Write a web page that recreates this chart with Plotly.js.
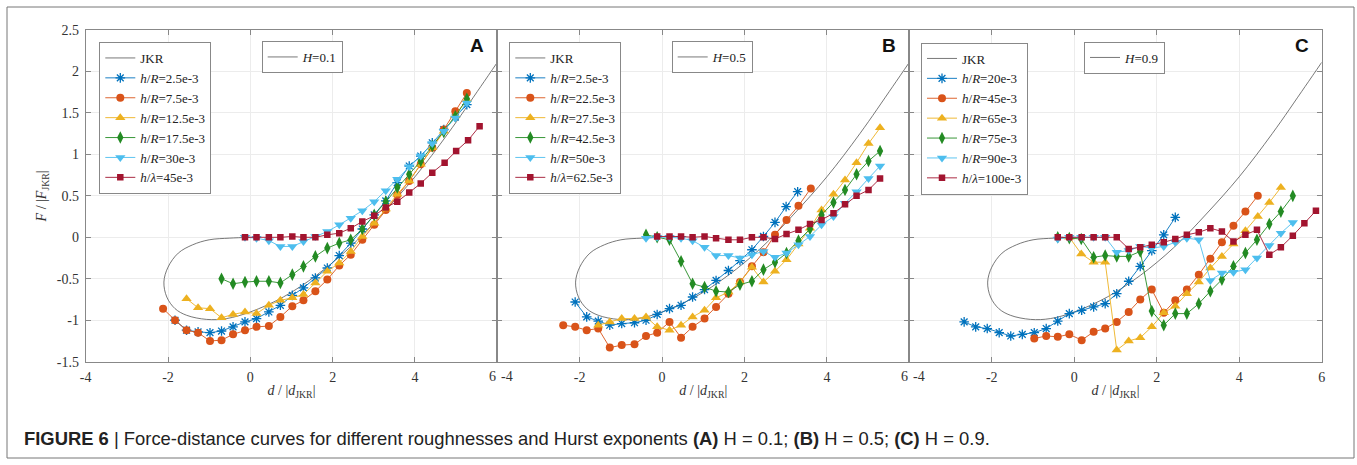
<!DOCTYPE html>
<html><head><meta charset="utf-8">
<script src="https://cdn.plot.ly/plotly-3.0.1.min.js"></script>
<style>html,body{margin:0;padding:0;background:#fff;}#chart{width:1357px;height:465px;}</style>
</head><body><div id="chart"></div>
<script>
// ---------- data ----------
const X_TICKS = [-4, -2, 0, 2, 4, 6];
const X_TICK_LABELS = ["-4", "-2", "0", "2", "4", "6"];
const Y_TICKS = [-1.5, -1, -0.5, 0, 0.5, 1, 1.5, 2, 2.5];
const Y_TICK_LABELS = ["-1.5", "-1", "-0.5", "0", "0.5", "1", "1.5", "2", "2.5"];

const PANEL_LETTERS = ["A", "B", "C"];
const HURST_LABELS = ["<i>H</i>=0.1", "<i>H</i>=0.5", "<i>H</i>=0.9"];

const JKR_X = [0, -0.5, -1.0, -1.4, -1.75, -2.0, -2.1, -2.03, -1.83, -1.55, -1.06, -0.58, 0, 0.8, 1.6, 2.4, 3.2, 4.0, 4.8, 5.6, 6.0];
const JKR_Y = [0, -0.01, -0.03, -0.09, -0.19, -0.36, -0.54, -0.72, -0.86, -0.94, -0.99, -0.98, -0.90, -0.72, -0.46, -0.13, 0.28, 0.73, 1.25, 1.82, 2.11];

// Panel A (H = 0.1)
const A_NAMES = ["<i>h</i>/<i>R</i>=2.5e-3", "<i>h</i>/<i>R</i>=7.5e-3", "<i>h</i>/<i>R</i>=12.5e-3", "<i>h</i>/<i>R</i>=17.5e-3", "<i>h</i>/<i>R</i>=30e-3", "<i>h</i>/<i>λ</i>=45e-3"];
const A1_X = [-1.83, -1.55, -1.27, -0.98, -0.70, -0.42, -0.13, 0.15, 0.45, 0.73, 1.02, 1.29, 1.58, 1.87, 2.16, 2.44, 2.72, 3.01, 3.29, 3.57, 3.86, 4.14, 4.42, 4.70, 4.98, 5.26];
const A1_Y = [-1.00, -1.12, -1.14, -1.15, -1.13, -1.08, -1.02, -0.98, -0.90, -0.82, -0.70, -0.61, -0.49, -0.37, -0.22, -0.07, 0.10, 0.27, 0.44, 0.66, 0.86, 0.98, 1.14, 1.30, 1.45, 1.60];
const A2_X = [-2.12, -1.83, -1.55, -1.27, -0.98, -0.70, -0.42, -0.13, 0.15, 0.45, 0.73, 1.02, 1.29, 1.58, 1.87, 2.16, 2.44, 2.72, 3.01, 3.29, 3.57, 3.86, 4.14, 4.42, 4.70, 4.98, 5.26];
const A2_Y = [-0.86, -1.00, -1.12, -1.15, -1.25, -1.24, -1.17, -1.12, -1.08, -1.07, -0.96, -0.83, -0.76, -0.65, -0.51, -0.34, -0.21, -0.03, 0.15, 0.33, 0.51, 0.68, 0.88, 1.08, 1.30, 1.52, 1.74];
const A3_X = [-1.55, -1.27, -0.98, -0.70, -0.42, -0.13, 0.15, 0.45, 0.73, 1.02, 1.29, 1.58, 1.87, 2.16, 2.44, 2.72, 3.01, 3.29, 3.57, 3.86, 4.14, 4.42, 4.70, 4.98, 5.26];
const A3_Y = [-0.74, -0.85, -0.86, -0.97, -0.93, -0.90, -0.92, -0.82, -0.76, -0.73, -0.69, -0.55, -0.41, -0.31, -0.17, 0.01, 0.17, 0.34, 0.52, 0.68, 0.88, 1.08, 1.28, 1.47, 1.66];
const A4_X = [-0.70, -0.42, -0.13, 0.15, 0.45, 0.73, 1.02, 1.29, 1.58, 1.87, 2.16, 2.44, 2.72, 3.01, 3.29, 3.57, 3.86, 4.14, 4.42, 4.70, 4.98, 5.26];
const A4_Y = [-0.50, -0.56, -0.54, -0.53, -0.53, -0.55, -0.45, -0.35, -0.23, -0.13, -0.07, -0.03, 0.10, 0.27, 0.43, 0.60, 0.76, 0.92, 1.10, 1.27, 1.46, 1.67];
const A5_X = [-0.13, 0.15, 0.45, 0.73, 1.02, 1.29, 1.58, 1.87, 2.16, 2.44, 2.72, 3.01, 3.29, 3.57, 3.86, 4.14, 4.42, 4.70, 4.98, 5.26];
const A5_Y = [0.00, -0.01, -0.04, -0.11, -0.11, -0.05, 0.01, 0.07, 0.15, 0.23, 0.32, 0.43, 0.56, 0.70, 0.85, 0.98, 1.13, 1.28, 1.44, 1.62];
const A6_X = [-0.13, 0.15, 0.45, 0.73, 1.02, 1.29, 1.58, 1.87, 2.16, 2.44, 2.72, 3.01, 3.29, 3.57, 3.86, 4.14, 4.42, 4.72, 5.00, 5.29, 5.57];
const A6_Y = [0.00, 0.00, 0.00, 0.00, 0.01, 0.00, 0.00, 0.03, 0.05, 0.11, 0.19, 0.26, 0.36, 0.43, 0.54, 0.65, 0.78, 0.90, 1.04, 1.17, 1.34];

// Panel B (H = 0.5)
const B_NAMES = ["<i>h</i>/<i>R</i>=2.5e-3", "<i>h</i>/<i>R</i>=22.5e-3", "<i>h</i>/<i>R</i>=27.5e-3", "<i>h</i>/<i>R</i>=42.5e-3", "<i>h</i>/<i>R</i>=50e-3", "<i>h</i>/<i>λ</i>=62.5e-3"];
const B1_X = [-2.11, -1.83, -1.55, -1.27, -0.98, -0.67, -0.39, -0.12, 0.18, 0.46, 0.74, 1.03, 1.31, 1.61, 1.89, 2.18, 2.46, 2.74, 3.01, 3.29];
const B1_Y = [-0.78, -0.96, -1.01, -1.06, -1.04, -1.03, -1.00, -0.93, -0.86, -0.82, -0.72, -0.63, -0.52, -0.40, -0.28, -0.15, 0.01, 0.18, 0.37, 0.55];
const B2_X = [-2.40, -2.11, -1.83, -1.55, -1.27, -0.98, -0.67, -0.39, -0.12, 0.18, 0.46, 0.74, 1.03, 1.31, 1.61, 1.89, 2.18, 2.46, 2.74, 3.02, 3.31, 3.61];
const B2_Y = [-1.06, -1.08, -1.12, -1.10, -1.33, -1.30, -1.29, -1.19, -1.15, -1.02, -1.21, -1.08, -0.98, -0.84, -0.68, -0.54, -0.35, -0.18, 0.03, 0.21, 0.38, 0.59];
const B3_X = [-1.55, -1.27, -0.98, -0.67, -0.39, -0.12, 0.18, 0.46, 0.74, 1.03, 1.31, 1.61, 1.89, 2.18, 2.46, 2.74, 3.02, 3.31, 3.59, 3.87, 4.16, 4.44, 4.72, 5.01, 5.29];
const B3_Y = [-1.06, -1.02, -0.98, -0.98, -0.96, -1.08, -1.12, -1.06, -0.96, -0.88, -0.73, -0.66, -0.54, -0.36, -0.54, -0.41, -0.27, -0.08, 0.11, 0.33, 0.52, 0.69, 0.90, 1.13, 1.32];
const B4_X = [-0.39, -0.12, 0.18, 0.46, 0.74, 1.03, 1.31, 1.61, 1.89, 2.18, 2.46, 2.74, 3.02, 3.31, 3.59, 3.87, 4.16, 4.44, 4.72, 5.01, 5.29];
const B4_Y = [0.03, 0.00, -0.03, -0.29, -0.56, -0.60, -0.65, -0.66, -0.57, -0.53, -0.39, -0.30, -0.19, -0.04, 0.10, 0.27, 0.42, 0.57, 0.76, 0.92, 1.04];
const B5_X = [-0.39, -0.12, 0.18, 0.46, 0.74, 1.03, 1.31, 1.61, 1.89, 2.18, 2.46, 2.74, 3.02, 3.31, 3.59, 3.87, 4.16, 4.44, 4.72, 5.01, 5.29];
const B5_Y = [-0.01, 0.00, 0.00, -0.01, -0.04, -0.12, -0.22, -0.22, -0.25, -0.21, -0.17, -0.24, -0.19, -0.09, 0.01, 0.15, 0.25, 0.41, 0.55, 0.71, 0.86];
const B6_X = [-0.12, 0.18, 0.46, 0.74, 1.03, 1.31, 1.61, 1.89, 2.18, 2.46, 2.74, 3.02, 3.31, 3.59, 3.87, 4.16, 4.44, 4.72, 5.01, 5.29];
const B6_Y = [0.01, 0.01, 0.01, 0.00, 0.01, -0.01, -0.03, -0.03, 0.00, 0.00, -0.02, 0.04, 0.09, 0.16, 0.21, 0.29, 0.40, 0.50, 0.57, 0.71];

// Panel C (H = 0.9)
const C_NAMES = ["<i>h</i>/<i>R</i>=20e-3", "<i>h</i>/<i>R</i>=45e-3", "<i>h</i>/<i>R</i>=65e-3", "<i>h</i>/<i>R</i>=75e-3", "<i>h</i>/<i>R</i>=90e-3", "<i>h</i>/<i>λ</i>=100e-3"];
const C1_X = [-2.67, -2.39, -2.11, -1.82, -1.54, -1.26, -0.97, -0.68, -0.40, -0.12, 0.18, 0.47, 0.75, 1.03, 1.32, 1.60, 1.88, 2.17, 2.45];
const C1_Y = [-1.02, -1.08, -1.10, -1.15, -1.19, -1.17, -1.15, -1.10, -1.01, -0.92, -0.88, -0.84, -0.80, -0.68, -0.53, -0.35, -0.16, 0.03, 0.24];
const C2_X = [-0.97, -0.68, -0.40, -0.12, 0.18, 0.47, 0.75, 1.03, 1.32, 1.60, 1.88, 2.17, 2.45, 2.73, 3.02, 3.30, 3.58, 3.86, 4.15, 4.45];
const C2_Y = [-1.22, -1.19, -1.20, -1.17, -1.24, -1.14, -1.10, -1.02, -0.90, -0.75, -0.63, -0.91, -0.76, -0.63, -0.45, -0.26, -0.06, 0.14, 0.31, 0.50];
const C3_X = [-0.12, 0.17, 0.47, 0.75, 1.03, 1.32, 1.60, 1.88, 2.17, 2.45, 2.73, 3.02, 3.30, 3.58, 3.86, 4.15, 4.45, 4.73, 5.01];
const C3_Y = [0.00, -0.20, -0.30, -0.30, -1.36, -1.25, -1.21, -1.08, -0.91, -0.83, -0.68, -0.54, -0.37, -0.23, -0.08, 0.08, 0.25, 0.42, 0.60];
const C4_X = [-0.40, -0.12, 0.17, 0.47, 0.75, 1.03, 1.32, 1.60, 1.88, 2.17, 2.45, 2.73, 3.02, 3.30, 3.58, 3.86, 4.15, 4.43, 4.73, 5.01, 5.30];
const C4_Y = [0.00, -0.01, -0.02, -0.24, -0.22, -0.23, -0.23, -0.17, -0.89, -1.06, -0.92, -0.92, -0.80, -0.65, -0.51, -0.35, -0.19, -0.03, 0.16, 0.31, 0.50];
const C5_X = [-0.40, -0.12, 0.17, 0.47, 0.75, 1.03, 1.32, 1.60, 1.88, 2.17, 2.45, 2.73, 3.02, 3.30, 3.58, 3.86, 4.15, 4.43, 4.73, 5.01, 5.30];
const C5_Y = [-0.02, 0.00, 0.00, 0.00, 0.00, -0.18, -0.16, -0.11, -0.13, -0.11, -0.06, -0.01, -0.03, -0.52, -0.43, -0.42, -0.39, -0.25, -0.10, 0.05, 0.18];
const C6_X = [-0.40, -0.12, 0.18, 0.47, 0.75, 1.03, 1.32, 1.60, 1.88, 2.17, 2.45, 2.73, 3.02, 3.30, 3.58, 3.86, 4.15, 4.43, 4.73, 5.01, 5.30, 5.58, 5.86];
const C6_Y = [0.00, 0.00, 0.00, 0.00, 0.00, 0.00, -0.14, -0.12, -0.09, -0.06, -0.02, 0.03, 0.06, 0.11, 0.07, -0.05, 0.03, 0.09, -0.21, -0.12, 0.02, 0.17, 0.32];

const CAPTION = "<b>FIGURE 6</b> | Force-distance curves for different roughnesses and Hurst exponents <b>(A)</b> H = 0.1; <b>(B)</b> H = 0.5; <b>(C)</b> H = 0.9.";

// ---------- styles ----------
const W = 1357, H = 465;
const px = v => v / W, py = v => 1 - v / H;
const SERIF = '"Liberation Serif", "Times New Roman", serif';
const SANS = '"Liberation Sans", Arial, sans-serif';
const TICKFONT = {family: SERIF, size: 14, color: "#333"};
const STYLES = [
  {color: "#0072BD", symbol: "asterisk-open", size: 8},
  {color: "#D95319", symbol: "circle", size: 8},
  {color: "#EDB120", symbol: "triangle-up", size: 9},
  {color: "#238B23", symbol: "diamond-tall", size: 9},
  {color: "#4DBEEE", symbol: "triangle-down", size: 9},
  {color: "#A2142F", symbol: "square", size: 6.5}
];

const PANELS = [
  {names: A_NAMES, xs: [A1_X, A2_X, A3_X, A4_X, A5_X, A6_X], ys: [A1_Y, A2_Y, A3_Y, A4_Y, A5_Y, A6_Y]},
  {names: B_NAMES, xs: [B1_X, B2_X, B3_X, B4_X, B5_X, B6_X], ys: [B1_Y, B2_Y, B3_Y, B4_Y, B5_Y, B6_Y]},
  {names: C_NAMES, xs: [C1_X, C2_X, C3_X, C4_X, C5_X, C6_X], ys: [C1_Y, C2_Y, C3_Y, C4_Y, C5_Y, C6_Y]}
];

// pixel geometry of the three axes boxes
const X_EDGES = [85.7, 497.3, 909.3, 1321.7];
const Y_TOP = 30, Y_BOTTOM = 361.7;
const LEGEND_POS = [[99.3, 42], [509.3, 42], [921, 42.5]];
const HLEG_POS = [[261.7, 41], [671.7, 41], [1084, 41.5]];
const TICKLABEL_ROW = 376;

const traces = [];
PANELS.forEach((p, i) => {
  const ax = i === 0 ? "" : String(i + 1);
  const leg = i === 0 ? "legend" : "legend" + (i + 1);
  traces.push({
    type: "scatter", mode: "lines", x: JKR_X, y: JKR_Y, name: "JKR",
    xaxis: "x" + ax, yaxis: "y" + ax, legend: leg,
    line: {color: "#555555", width: 0.8, shape: "spline", smoothing: 1}
  });
  p.xs.forEach((xs, k) => {
    const s = STYLES[k];
    traces.push({
      type: "scatter", mode: "lines+markers", x: xs, y: p.ys[k], name: p.names[k],
      xaxis: "x" + ax, yaxis: "y" + ax, legend: leg,
      line: {color: s.color, width: 0.9},
      marker: {symbol: s.symbol, size: s.size, color: s.color,
               line: {color: s.color, width: s.symbol === "asterisk-open" ? 1.3 : 0}}
    });
  });
  // Hurst exponent box (legend with a single line entry)
  traces.push({
    type: "scatter", mode: "lines", x: [null], y: [null], name: HURST_LABELS[i],
    xaxis: "x" + ax, yaxis: "y" + ax, legend: "legend" + (i + 4),
    line: {color: "#555555", width: 0.8}
  });
});

const layout = {
  width: W, height: H,
  margin: {l: 0, r: 0, t: 0, b: 0},
  paper_bgcolor: "#ffffff", plot_bgcolor: "#ffffff",
  showlegend: true,
  font: {family: SERIF, size: 14, color: "#333"},
  annotations: [],
  shapes: [{type: "rect", xref: "paper", yref: "paper", x0: px(7), x1: px(1354), y0: py(458), y1: py(7),
            line: {color: "#777", width: 1}, fillcolor: "rgba(0,0,0,0)", layer: "below"}]
};

const LAST = X_TICK_LABELS.length - 1;
for (let i = 0; i < 3; i++) {
  const ax = i === 0 ? "" : String(i + 1);
  // labels at shared panel borders are drawn as side-anchored texts so they sit apart, as in the reference
  const keep = X_TICKS.map((t, j) => !((j === 0 && i > 0) || (j === LAST && i < 2)));
  const tv = X_TICKS.filter((t, j) => keep[j]);
  const tt = X_TICK_LABELS.filter((t, j) => keep[j]);
  if (i > 0) layout.annotations.push({
    text: X_TICK_LABELS[0], xref: "x" + ax, yref: "paper", x: X_TICKS[0], y: py(TICKLABEL_ROW),
    xanchor: "left", yanchor: "middle", xshift: 1.5, showarrow: false, font: TICKFONT
  });
  if (i < 2) layout.annotations.push({
    text: X_TICK_LABELS[LAST], xref: "x" + ax, yref: "paper", x: X_TICKS[LAST], y: py(TICKLABEL_ROW),
    xanchor: "right", yanchor: "middle", xshift: 1, showarrow: false, font: TICKFONT
  });
  layout["xaxis" + ax] = {
    domain: [px(X_EDGES[i]), px(X_EDGES[i + 1])], anchor: "y" + ax,
    range: [-4, 6], tickvals: tv, ticktext: tt,
    ticks: "inside", ticklen: 5, tickwidth: 1, tickcolor: "#888",
    showline: true, linecolor: "#888", linewidth: 1, mirror: "allticks",
    showgrid: true, gridcolor: "#ececec", gridwidth: 1, zeroline: false,
    tickfont: TICKFONT, ticklabelstandoff: 2,
    title: {text: "<i>d</i> / |<i>d</i><sub>JKR</sub>|", font: {family: SERIF, size: 14, color: "#333"}, standoff: 1},
    automargin: false, fixedrange: true
  };
  const yax = {
    domain: [py(Y_BOTTOM), py(Y_TOP)], anchor: "x" + ax,
    range: [-1.5, 2.5], tickvals: Y_TICKS, ticktext: Y_TICK_LABELS, showticklabels: i === 0,
    ticks: "inside", ticklen: 5, tickwidth: 1, tickcolor: "#888",
    showline: true, linecolor: "#888", linewidth: 1, mirror: "allticks",
    showgrid: true, gridcolor: "#ececec", gridwidth: 1, zeroline: false,
    tickfont: TICKFONT, ticklabelstandoff: 3,
    automargin: false, fixedrange: true
  };
  if (i === 0) yax.title = {text: "<i>F</i> / |<i>F</i><sub>JKR</sub>|", font: {family: SERIF, size: 14, color: "#333"}, standoff: 6};
  layout["yaxis" + ax] = yax;
  const legName = i === 0 ? "legend" : "legend" + (i + 1);
  layout[legName] = {
    x: px(LEGEND_POS[i][0]), y: py(LEGEND_POS[i][1]), xanchor: "left", yanchor: "top",
    bgcolor: "#ffffff", bordercolor: "#888", borderwidth: 1,
    font: {family: SERIF, size: 13, color: "#222"}, itemwidth: 30, tracegroupgap: 0
  };
  layout["legend" + (i + 4)] = {
    x: px(HLEG_POS[i][0]), y: py(HLEG_POS[i][1]), xanchor: "left", yanchor: "top",
    bgcolor: "#ffffff", bordercolor: "#888", borderwidth: 1,
    font: {family: SERIF, size: 13, color: "#222"}, itemwidth: 30
  };
  layout.annotations.push({
    text: "<b>" + PANEL_LETTERS[i] + "</b>", xref: "paper", yref: "paper",
    x: px(X_EDGES[i + 1] - 20), y: py(46), xanchor: "center", yanchor: "middle",
    showarrow: false, font: {family: SANS, size: 19, color: "#111"}
  });
}
layout.annotations.push({
  text: CAPTION, xref: "paper", yref: "paper", x: px(22), y: py(438),
  xanchor: "left", yanchor: "middle", showarrow: false,
  font: {family: SANS, size: 18.4, color: "#222"}
});

Plotly.newPlot("chart", traces, layout, {displayModeBar: false, staticPlot: true});
</script></body></html>
